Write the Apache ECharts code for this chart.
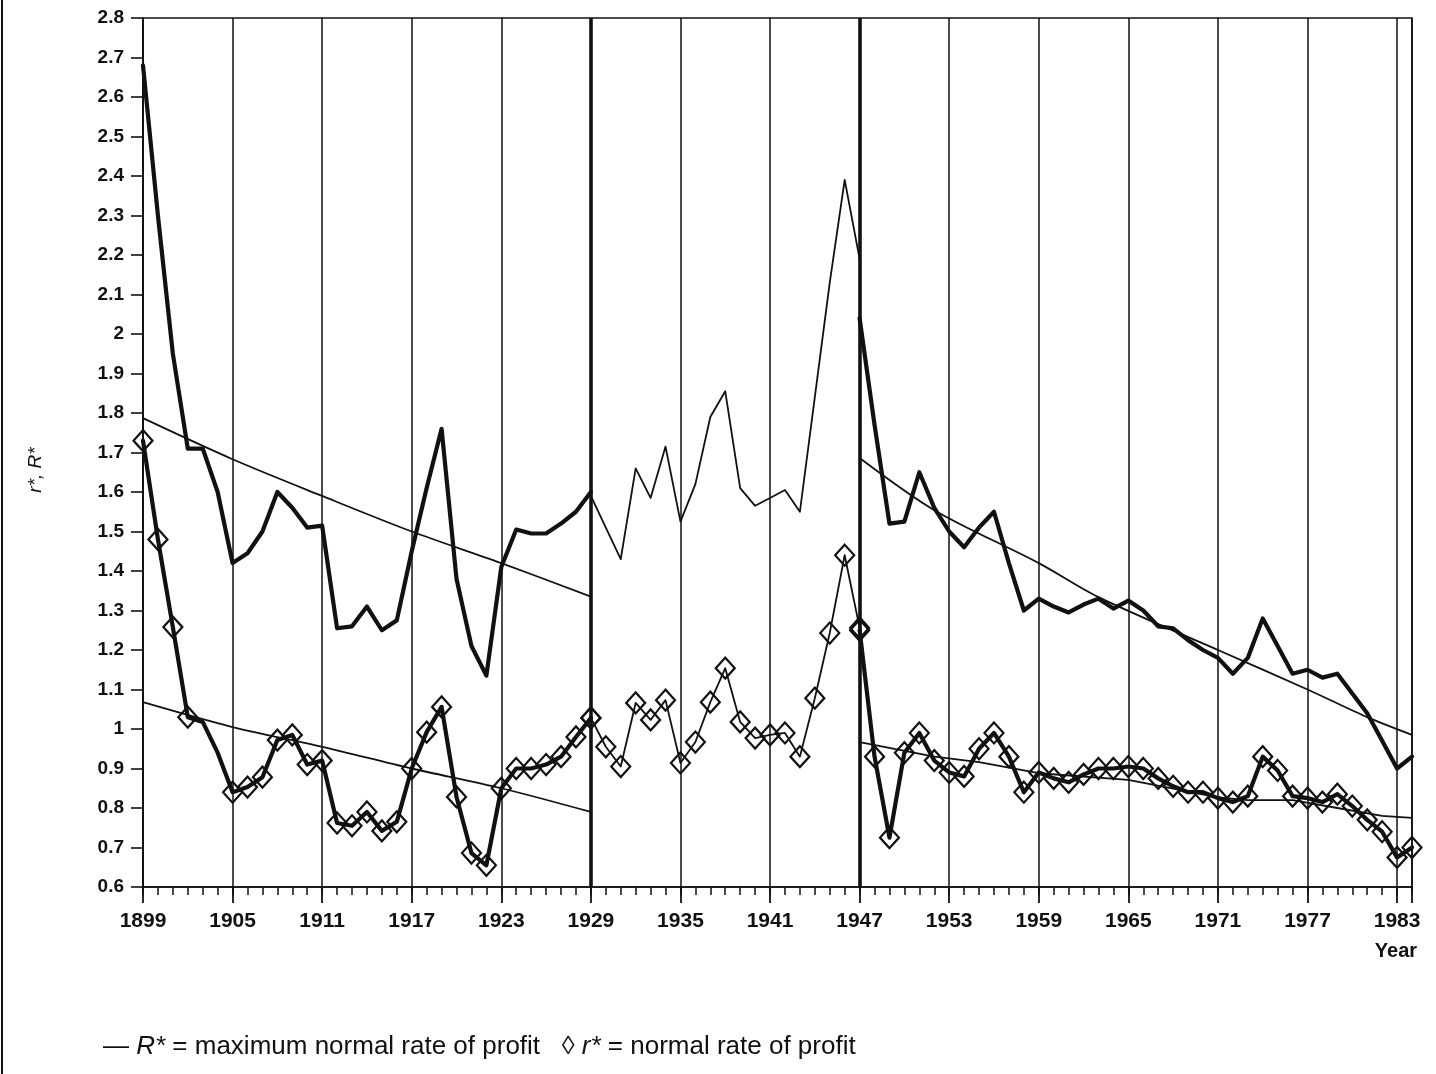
<!DOCTYPE html>
<html><head><meta charset="utf-8">
<script src="https://cdn.jsdelivr.net/npm/echarts@6/dist/echarts.min.js"></script>
<style>html,body{margin:0;padding:0;background:#fff}#c{width:1436px;height:1074px}</style>
</head><body><div id="c"></div>
<script>
// ---------------- DATA ----------------
const BASE_YEAR = 1899;
const END_YEAR = 1984;
const xTickYears = [1899,1905,1911,1917,1923,1929,1935,1941,1947,1953,1959,1965,1971,1977,1983];
const yTickLabels = ['0.6','0.7','0.8','0.9','1','1.1','1.2','1.3','1.4','1.5','1.6','1.7','1.8','1.9','2','2.1','2.2','2.3','2.4','2.5','2.6','2.7','2.8'];

// R* = maximum normal rate of profit
const RPreStart = 1899;   // thick, 1899-1929
const RPre = [2.68,2.30,1.95,1.71,1.71,1.60,1.42,1.445,1.50,1.60,1.56,1.51,1.515,1.255,1.26,1.31,1.25,1.275,1.45,1.61,1.76,1.38,1.21,1.135,1.41,1.505,1.495,1.495,1.52,1.55,1.60];
const RMidStart = 1929;   // thin, 1929-1947
const RMid = [1.59,1.51,1.43,1.66,1.585,1.715,1.525,1.62,1.79,1.855,1.61,1.565,1.585,1.605,1.55,1.84,2.13,2.39,2.19];
const RPostStart = 1947;  // thick, 1947-1984
const RPost = [2.04,1.77,1.52,1.525,1.65,1.56,1.50,1.46,1.51,1.55,1.42,1.30,1.33,1.31,1.295,1.315,1.33,1.305,1.325,1.30,1.26,1.255,1.225,1.20,1.18,1.14,1.18,1.28,1.21,1.14,1.15,1.13,1.14,1.09,1.04,0.97,0.90,0.93];

// r* = normal rate of profit
const rPreStart = 1899;
const rPre = [1.73,1.48,1.258,1.03,1.018,0.94,0.84,0.853,0.878,0.972,0.985,0.91,0.92,0.762,0.755,0.79,0.742,0.765,0.90,0.992,1.056,0.828,0.686,0.655,0.85,0.90,0.90,0.91,0.93,0.98,1.028];
const rPreUnmarkedYears = [1903,1904];
const rMidStart = 1929;
const rMid = [1.028,0.955,0.905,1.066,1.023,1.073,0.914,0.967,1.068,1.154,1.018,0.977,0.985,0.99,0.93,1.078,1.243,1.44,1.256];
const rPostStart = 1947;
const rPost = [1.25,0.93,0.725,0.94,0.99,0.92,0.89,0.88,0.95,0.99,0.93,0.84,0.89,0.875,0.865,0.885,0.90,0.90,0.905,0.90,0.875,0.855,0.84,0.84,0.825,0.815,0.83,0.93,0.895,0.83,0.825,0.815,0.835,0.805,0.77,0.74,0.675,0.70];

// trend lines
const RTrendPreYears = [1899,1905,1911,1917,1923,1929];
const RTrendPre = [1.787,1.683,1.59,1.50,1.42,1.335];
const rTrendPreYears = [1899,1905,1911,1917,1923,1929];
const rTrendPre = [1.068,1.005,0.955,0.90,0.85,0.79];
const RTrendPostYears = [1947,1952,1959,1963,1971,1977,1981,1984];
const RTrendPost = [1.686,1.554,1.42,1.334,1.20,1.10,1.03,0.985];
const rTrendPostYears = [1947,1952,1955,1959,1965,1971,1973,1976,1979,1982,1984];
const rTrendPost = [0.967,0.93,0.916,0.888,0.871,0.827,0.82,0.82,0.80,0.78,0.775];

const breakYears = [1929,1947];

// ---------------- BUILD ----------------
function seq(start, vals){ return vals.map((v,i)=>[start+i-BASE_YEAR, v]); }
function pairs(years, vals){ return years.map((y,i)=>[y-BASE_YEAR, vals[i]]); }

const BLACK = '#111';
const FONT = '"Liberation Sans", Arial, sans-serif';
const THICK = 4.2, THIN = 1.8;

function lineSeries(data, width, extra){
  return Object.assign({
    type:'line', data, showSymbol:false, symbol:'none',
    lineStyle:{color:BLACK, width, join:'round', cap:'round'},
    z: 3, silent:true, animation:false
  }, extra||{});
}
function diamondSeries(data, width, extra){
  return Object.assign({
    type:'line', data, symbol:'diamond', symbolSize:[19,21], showSymbol:true,
    itemStyle:{color:'rgba(0,0,0,0)', borderColor:BLACK, borderWidth:2.2},
    lineStyle:{color:BLACK, width, join:'round', cap:'round'},
    z: 4, silent:true, animation:false
  }, extra||{});
}

const rPreData = seq(rPreStart, rPre).map(p => {
  const yr = p[0] + BASE_YEAR;
  return rPreUnmarkedYears.includes(yr) ? {value:p, symbol:'none'} : {value:p};
});

const chart = echarts.init(document.getElementById('c'), null, {renderer:'canvas'});
chart.setOption({
  animation:false,
  backgroundColor:'#fff',
  grid:{left:143, right:24, top:18, bottom:187, show:true, borderColor:BLACK, borderWidth:1.6, backgroundColor:'transparent'},
  xAxis:[{
    type:'value', min:0, max:END_YEAR-BASE_YEAR, interval:6,
    axisLine:{show:true, onZero:false, lineStyle:{color:BLACK, width:1.6}},
    axisTick:{show:true, inside:false, length:16, lineStyle:{color:BLACK, width:1.8}},
    axisLabel:{margin:24, color:BLACK, fontFamily:FONT, fontSize:21, fontWeight:'bold',
      formatter:v => xTickYears.includes(v+BASE_YEAR) ? String(v+BASE_YEAR) : ''},
    splitLine:{show:true, lineStyle:{color:BLACK, width:1.5}}
  },{
    type:'value', min:0, max:END_YEAR-BASE_YEAR, interval:1, position:'bottom',
    axisLine:{show:false}, axisLabel:{show:false}, splitLine:{show:false},
    axisTick:{show:true, inside:false, length:8, lineStyle:{color:BLACK, width:1.5}}
  }],
  yAxis:{
    type:'value', min:0.6, max:2.8, interval:0.1,
    axisLine:{show:true, lineStyle:{color:BLACK, width:1.6}},
    axisTick:{show:true, length:12, lineStyle:{color:BLACK, width:1.6}},
    axisLabel:{margin:19, color:BLACK, fontFamily:FONT, fontSize:19, fontWeight:'bold',
      formatter:v => { const s = yTickLabels.find(t => Math.abs(parseFloat(t)-v) < 1e-6); return s || ''; }},
    splitLine:{show:false}
  },
  series:[
    lineSeries(seq(RPreStart, RPre), THICK, {
      markLine:{silent:true, symbol:['none','none'], label:{show:false},
        lineStyle:{color:BLACK, width:3.6, type:'solid'},
        data: breakYears.map(y => ({xAxis: y-BASE_YEAR}))}
    }),
    lineSeries(seq(RMidStart, RMid), THIN),
    lineSeries(seq(RPostStart, RPost), THICK),
    diamondSeries(rPreData, THICK),
    diamondSeries(seq(rMidStart, rMid), THIN),
    diamondSeries(seq(rPostStart, rPost), THICK),
    lineSeries(pairs(RTrendPreYears, RTrendPre), THIN, {smooth:0.3}),
    lineSeries(pairs(rTrendPreYears, rTrendPre), THIN, {smooth:0.3}),
    lineSeries(pairs(RTrendPostYears, RTrendPost), THIN, {smooth:0.3}),
    lineSeries(pairs(rTrendPostYears, rTrendPost), THIN)
  ],
  graphic:[
    {type:'line', shape:{x1:2, y1:0, x2:2, y2:1074}, style:{stroke:BLACK, lineWidth:2}},
    {type:'text', x:36, y:470, rotation:Math.PI/2, style:{text:'r*, R*', fontFamily:FONT, fontSize:19, fontStyle:'italic', fill:BLACK, align:'center', verticalAlign:'middle'}},
    {type:'text', x:1396, y:951, style:{text:'Year', fontFamily:FONT, fontSize:20, fontWeight:'bold', fill:BLACK, align:'center', verticalAlign:'middle'}},
    {type:'text', x:103, y:1047, style:{
      text:'{n|— }{i|R*}{n| = maximum normal rate of profit   ◊ }{i|r*}{n| = normal rate of profit}',
      verticalAlign:'middle', fill:BLACK,
      rich:{
        n:{fontFamily:FONT, fontSize:26, fill:BLACK},
        i:{fontFamily:FONT, fontSize:26, fontStyle:'italic', fill:BLACK}
      }
    }}
  ]
});
</script>
</body></html>
